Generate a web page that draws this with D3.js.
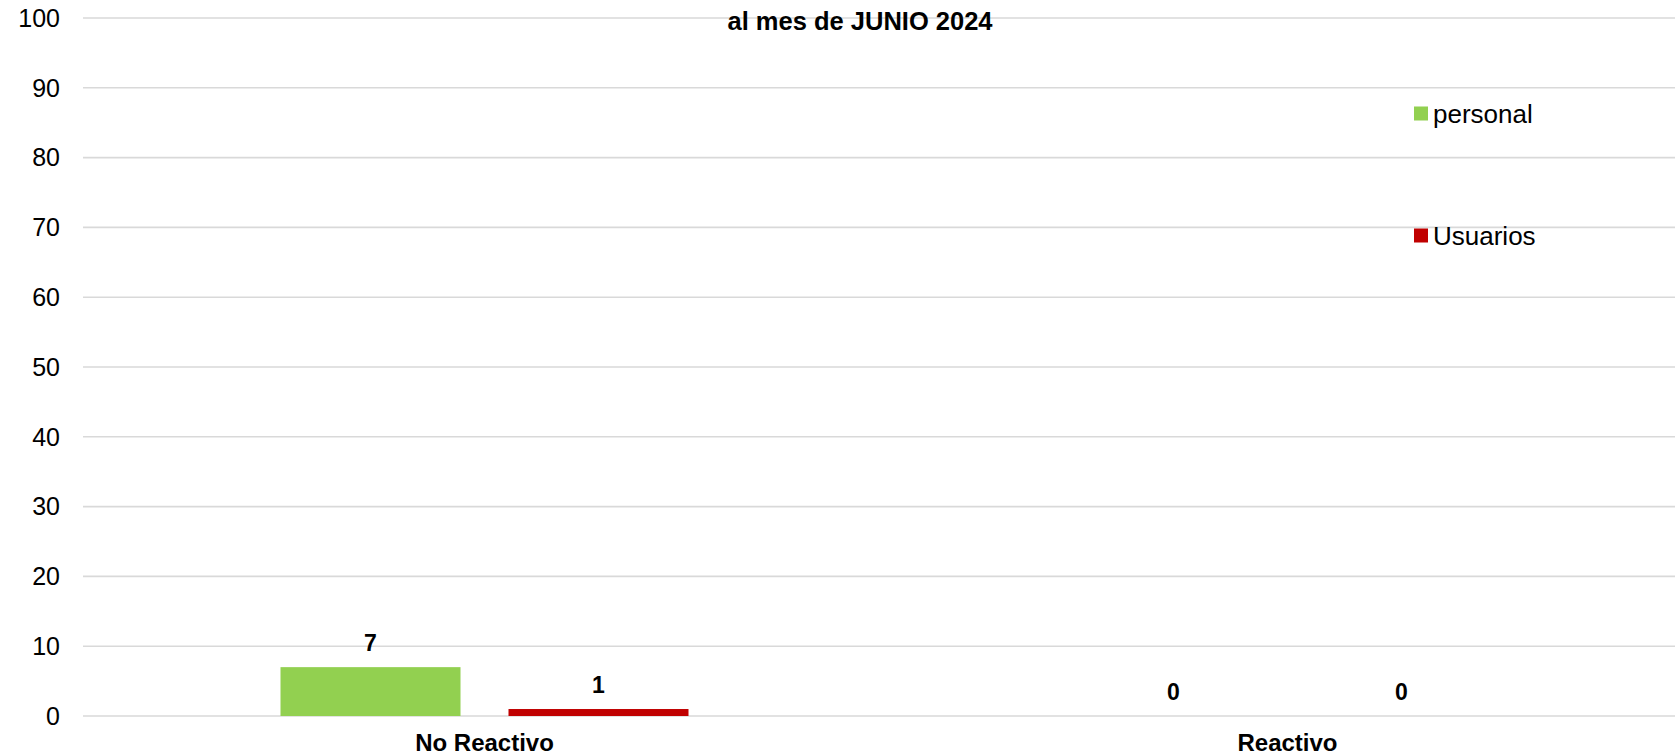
<!DOCTYPE html>
<html>
<head>
<meta charset="utf-8">
<script src="https://cdn.jsdelivr.net/npm/d3@7/dist/d3.min.js"></script>
<style>
  html, body { margin: 0; padding: 0; background: #fff; overflow: hidden; }
  svg { display: block; font-family: "Liberation Sans", Arial, sans-serif; }
</style>
</head>
<body>
<svg id="chart" width="1675" height="756"></svg>
<script>
const categories = ["No Reactivo", "Reactivo"];
const seriesNames = ["personal", "Usuarios"];
const personalValues = [7, 0];
const usuariosValues = [1, 0];
const yTicks = [0, 10, 20, 30, 40, 50, 60, 70, 80, 90, 100];
const titleText = "al mes de JUNIO 2024";
const colors = { personal: "#92D050", Usuarios: "#C00000" };

const svg = d3.select("#chart");
const plotLeft = 83, plotRight = 1689, plotTop = 18, plotBottom = 716;

const x0 = d3.scaleBand().domain(categories).range([plotLeft, plotRight]).paddingInner(0).paddingOuter(0);
const bw = x0.bandwidth();
const groupW = 408 / 803 * bw;
const x1 = d3.scaleBand().domain(seriesNames)
  .range([bw / 2 - groupW / 2, bw / 2 + groupW / 2])
  .paddingInner(48 / 228).paddingOuter(0);
const y = d3.scaleLinear().domain([0, 100]).range([plotBottom, plotTop]);

// gridlines
svg.append("g").selectAll("line").data(yTicks).join("line")
  .attr("x1", plotLeft).attr("x2", 1675)
  .attr("y1", d => y(d)).attr("y2", d => y(d))
  .attr("stroke", "#D9D9D9").attr("stroke-width", 1.6);

// y axis labels
svg.append("g").selectAll("text").data(yTicks).join("text")
  .attr("x", plotLeft - 23).attr("y", d => y(d)).attr("dy", "0.35em")
  .attr("text-anchor", "end").attr("font-size", 25).attr("fill", "#000")
  .text(d => d);

const data = categories.map((c, i) => ({
  cat: c,
  vals: [{ s: "personal", v: personalValues[i] }, { s: "Usuarios", v: usuariosValues[i] }]
}));

const groups = svg.append("g").selectAll("g").data(data).join("g")
  .attr("transform", d => `translate(${x0(d.cat)},0)`);

groups.selectAll("rect").data(d => d.vals).join("rect")
  .attr("x", d => x1(d.s)).attr("width", x1.bandwidth())
  .attr("y", d => y(d.v)).attr("height", d => y(0) - y(d.v))
  .attr("fill", d => colors[d.s]);

groups.selectAll("text").data(d => d.vals).join("text")
  .attr("x", d => x1(d.s) + x1.bandwidth() / 2)
  .attr("y", d => y(d.v) - 16)
  .attr("text-anchor", "middle").attr("font-size", 23).attr("font-weight", "bold")
  .attr("fill", "#000").text(d => d.v);

// category labels
svg.append("g").selectAll("text").data(categories).join("text")
  .attr("x", d => x0(d) + bw / 2).attr("y", 751)
  .attr("text-anchor", "middle").attr("font-size", 24).attr("font-weight", "bold")
  .attr("fill", "#000").text(d => d);

// title
svg.append("text").attr("x", 860).attr("y", 30)
  .attr("text-anchor", "middle").attr("font-size", 25.5).attr("font-weight", "bold")
  .attr("fill", "#000").text(titleText);

// legend
const legendY = [113.5, 235.5];
const lg = svg.append("g").selectAll("g").data(seriesNames).join("g")
  .attr("transform", (d, i) => `translate(1414,${legendY[i]})`);
lg.append("rect").attr("x", 0).attr("y", -7).attr("width", 14).attr("height", 14)
  .attr("fill", d => colors[d]);
lg.append("text").attr("x", 19).attr("y", 0).attr("dy", "0.35em")
  .attr("font-size", 26).attr("fill", "#000").text(d => d);
</script>
</body>
</html>
